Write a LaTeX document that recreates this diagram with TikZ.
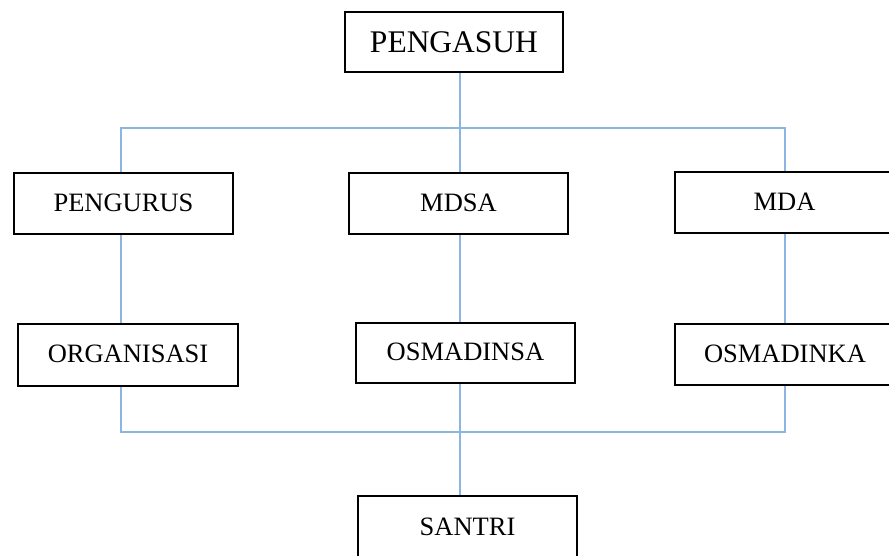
\documentclass[tikz,border=0pt]{standalone}
\usepackage{fontspec}
\setmainfont{Liberation Serif}
\usepackage{tikz}
\usetikzlibrary{calc,positioning}
\definecolor{linkblue}{HTML}{8DB4E2}
\tikzset{
  boxnode/.style={draw=black,line width=2.8pt,fill=white,minimum width=219pt,minimum height=61pt,inner sep=0pt,font=\fontsize{26.5}{28}\selectfont,text depth=0.25em},
  topnode/.style={boxnode,minimum width=218pt,minimum height=60pt,font=\fontsize{31.5}{34}\selectfont,text depth=0pt},
  link/.style={linkblue,line width=1.7pt}
}
\begin{document}
\begin{tikzpicture}[x=1pt,y=-1pt]
  \clip (0,0) rectangle (889,555);
  \fill[white] (0,0) rectangle (889,555);
  % bus corners and middle spine
  \coordinate (topL) at (121,128);
  \coordinate (topR) at (785,128);
  \coordinate (botL) at (121,432);
  \coordinate (botR) at (785,432);
  \coordinate (spine) at (460,0);
  % boxes
  \path (454,42) node[topnode] (pengasuh) {PENGASUH};
  \path (123.5,203.5) node[boxnode] (pengurus) {PENGURUS};
  \path (458.5,203.5) node[boxnode] (mdsa) {MDSA};
  \path (784.5,202.5) node[boxnode] (mda) {MDA};
  \path (128,355) node[boxnode,minimum width=220pt,minimum height=62pt] (organisasi) {ORGANISASI};
  \path (465.5,353) node[boxnode,minimum height=60pt] (osmadinsa) {OSMADINSA};
  \path (785,354.5) node[boxnode,minimum width=220pt] (osmadinka) {OSMADINKA};
  \path (467.5,529) node[boxnode,minimum height=66pt,text depth=0.55em] (santri) {SANTRI};
  % connectors
  \draw[link] (pengasuh.south -| spine) -- (spine |- topL);
  \draw[link] (pengurus.north -| topL) -- (topL) -- (topR) -- (mda.north -| topR);
  \draw[link] (spine |- topL) -- (mdsa.north -| spine);
  \draw[link] (pengurus.south -| topL) -- (organisasi.north -| topL);
  \draw[link] (mdsa.south -| spine) -- (osmadinsa.north -| spine);
  \draw[link] (mda.south -| topR) -- (osmadinka.north -| topR);
  \draw[link] (organisasi.south -| botL) -- (botL) -- (botR) -- (osmadinka.south -| botR);
  \draw[link] (osmadinsa.south -| spine) -- (santri.north -| spine);
\end{tikzpicture}
\end{document}
